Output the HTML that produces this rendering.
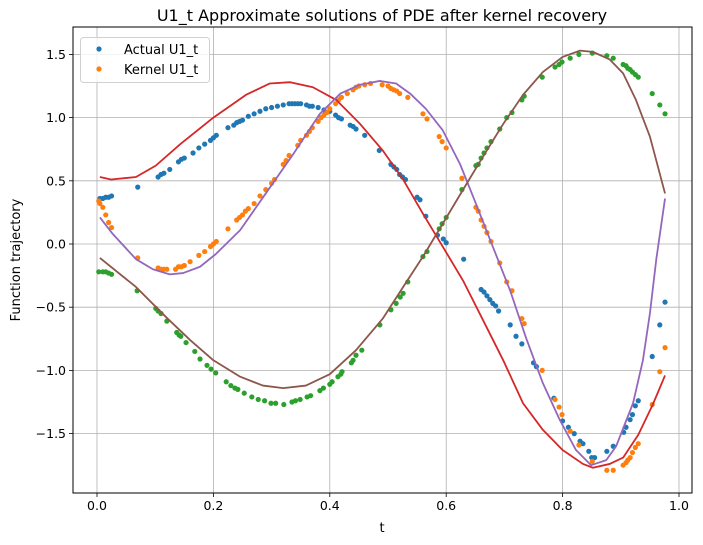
<!DOCTYPE html>
<html><head><meta charset="utf-8"><style>
body{margin:0;background:#fff;}
svg{display:block;font-family:"DejaVu Sans","Liberation Sans",sans-serif;}
</style></head><body>
<svg id="chart" width="703" height="545"></svg>
<script>
const xTicks=[0.0,0.2,0.4,0.6,0.8,1.0];
const xTickLabels=["0.0","0.2","0.4","0.6","0.8","1.0"];
const yTicks=[1.5,1.0,0.5,0.0,-0.5,-1.0,-1.5];
const yTickLabels=["1.5","1.0","0.5","0.0","−0.5","−1.0","−1.5"];
const actualBlue=[[0.005,0.36],[0.01,0.36],[0.015,0.37],[0.02,0.37],[0.025,0.38],[0.07,0.45],[0.105,0.53],[0.11,0.55],[0.115,0.56],[0.125,0.59],[0.14,0.65],[0.145,0.67],[0.15,0.68],[0.165,0.72],[0.175,0.76],[0.185,0.79],[0.195,0.82],[0.2,0.84],[0.205,0.86],[0.225,0.92],[0.235,0.94],[0.24,0.96],[0.245,0.97],[0.25,0.98],[0.26,1.01],[0.27,1.03],[0.28,1.05],[0.29,1.07],[0.3,1.08],[0.31,1.09],[0.32,1.10],[0.33,1.11],[0.335,1.11],[0.34,1.11],[0.345,1.11],[0.35,1.11],[0.36,1.10],[0.365,1.09],[0.37,1.09],[0.38,1.08],[0.39,1.06],[0.4,1.05],[0.41,1.02],[0.415,1.00],[0.42,0.99],[0.435,0.94],[0.44,0.93],[0.445,0.91],[0.46,0.86],[0.485,0.74],[0.505,0.63],[0.51,0.61],[0.515,0.59],[0.52,0.55],[0.525,0.53],[0.53,0.51],[0.55,0.37],[0.555,0.35],[0.565,0.22],[0.585,0.07],[0.595,0.04],[0.6,0.01],[0.63,-0.12],[0.66,-0.36],[0.665,-0.38],[0.67,-0.41],[0.675,-0.44],[0.68,-0.47],[0.685,-0.49],[0.69,-0.53],[0.71,-0.64],[0.72,-0.73],[0.73,-0.79],[0.75,-0.94],[0.755,-0.97],[0.785,-1.22],[0.8,-1.40],[0.81,-1.45],[0.82,-1.5],[0.83,-1.56],[0.835,-1.58],[0.845,-1.64],[0.85,-1.69],[0.855,-1.69],[0.876,-1.64],[0.887,-1.60],[0.905,-1.49],[0.909,-1.45],[0.916,-1.39],[0.92,-1.35],[0.925,-1.28],[0.93,-1.24],[0.954,-0.89],[0.967,-0.64],[0.976,-0.46]];
const kernelOrange=[[0.003,0.34],[0.005,0.32],[0.01,0.29],[0.015,0.23],[0.02,0.17],[0.025,0.13],[0.07,-0.11],[0.105,-0.19],[0.11,-0.2],[0.115,-0.2],[0.12,-0.2],[0.135,-0.2],[0.14,-0.18],[0.145,-0.18],[0.15,-0.17],[0.16,-0.14],[0.175,-0.09],[0.185,-0.06],[0.195,-0.02],[0.2,0.0],[0.205,0.02],[0.225,0.12],[0.24,0.19],[0.245,0.21],[0.25,0.23],[0.255,0.26],[0.26,0.28],[0.27,0.32],[0.28,0.38],[0.29,0.43],[0.3,0.48],[0.305,0.51],[0.32,0.63],[0.325,0.66],[0.33,0.70],[0.345,0.78],[0.35,0.82],[0.36,0.86],[0.365,0.89],[0.37,0.92],[0.38,0.97],[0.385,1.0],[0.39,1.02],[0.395,1.04],[0.4,1.07],[0.41,1.11],[0.415,1.14],[0.42,1.16],[0.43,1.19],[0.44,1.22],[0.445,1.24],[0.45,1.25],[0.46,1.26],[0.47,1.27],[0.49,1.26],[0.5,1.25],[0.505,1.23],[0.51,1.22],[0.515,1.21],[0.52,1.19],[0.534,1.16],[0.56,1.03],[0.567,0.99],[0.588,0.85],[0.593,0.81],[0.6,0.76],[0.627,0.52],[0.651,0.29],[0.655,0.26],[0.66,0.19],[0.665,0.14],[0.67,0.09],[0.677,0.02],[0.692,-0.15],[0.704,-0.30],[0.713,-0.37],[0.73,-0.59],[0.734,-0.63],[0.765,-1.0],[0.787,-1.23],[0.794,-1.29],[0.799,-1.35],[0.813,-1.48],[0.828,-1.59],[0.851,-1.72],[0.876,-1.79],[0.887,-1.79],[0.904,-1.75],[0.909,-1.73],[0.912,-1.71],[0.916,-1.69],[0.92,-1.65],[0.925,-1.61],[0.93,-1.58],[0.954,-1.27],[0.967,-1.01],[0.976,-0.82]];
const actualGreen=[[0.003,-0.22],[0.01,-0.22],[0.015,-0.22],[0.02,-0.23],[0.025,-0.24],[0.069,-0.37],[0.101,-0.51],[0.105,-0.53],[0.11,-0.55],[0.12,-0.61],[0.137,-0.70],[0.141,-0.72],[0.144,-0.73],[0.153,-0.78],[0.168,-0.85],[0.177,-0.91],[0.189,-0.96],[0.196,-0.99],[0.204,-1.02],[0.222,-1.09],[0.23,-1.12],[0.237,-1.14],[0.242,-1.15],[0.253,-1.18],[0.266,-1.21],[0.277,-1.23],[0.288,-1.24],[0.299,-1.26],[0.307,-1.26],[0.321,-1.27],[0.335,-1.25],[0.341,-1.24],[0.349,-1.23],[0.361,-1.21],[0.367,-1.20],[0.383,-1.16],[0.389,-1.14],[0.4,-1.11],[0.404,-1.09],[0.414,-1.05],[0.419,-1.03],[0.421,-1.01],[0.437,-0.94],[0.44,-0.92],[0.445,-0.88],[0.455,-0.84],[0.486,-0.64],[0.505,-0.52],[0.514,-0.47],[0.521,-0.42],[0.526,-0.39],[0.534,-0.30],[0.56,-0.10],[0.567,-0.06],[0.588,0.12],[0.593,0.16],[0.6,0.21],[0.627,0.43],[0.651,0.62],[0.655,0.63],[0.66,0.68],[0.665,0.72],[0.67,0.76],[0.677,0.81],[0.692,0.91],[0.704,1.0],[0.713,1.04],[0.73,1.14],[0.734,1.17],[0.765,1.32],[0.787,1.40],[0.794,1.42],[0.799,1.44],[0.813,1.47],[0.828,1.50],[0.851,1.51],[0.876,1.49],[0.887,1.47],[0.904,1.42],[0.909,1.41],[0.912,1.39],[0.916,1.38],[0.92,1.36],[0.925,1.34],[0.93,1.32],[0.954,1.19],[0.967,1.10],[0.976,1.03]];
const redLine=[[0.005,0.53],[0.024,0.51],[0.067,0.53],[0.101,0.62],[0.143,0.79],[0.2,1.0],[0.256,1.18],[0.297,1.27],[0.332,1.28],[0.371,1.24],[0.411,1.14],[0.452,0.95],[0.491,0.74],[0.526,0.51],[0.56,0.24],[0.594,-0.02],[0.629,-0.29],[0.663,-0.60],[0.698,-0.92],[0.732,-1.26],[0.766,-1.47],[0.8,-1.63],[0.835,-1.74],[0.852,-1.77],[0.881,-1.74],[0.904,-1.69],[0.93,-1.51],[0.955,-1.27],[0.976,-1.04]];
const purpleLine=[[0.005,0.21],[0.027,0.08],[0.067,-0.12],[0.096,-0.20],[0.125,-0.24],[0.148,-0.23],[0.177,-0.18],[0.204,-0.08],[0.246,0.11],[0.29,0.40],[0.337,0.71],[0.383,1.03],[0.418,1.19],[0.452,1.26],[0.486,1.29],[0.514,1.27],[0.538,1.19],[0.565,1.07],[0.594,0.90],[0.624,0.63],[0.651,0.32],[0.68,-0.02],[0.71,-0.37],[0.737,-0.74],[0.766,-1.10],[0.795,-1.39],[0.823,-1.63],[0.849,-1.75],[0.875,-1.71],[0.892,-1.60],[0.921,-1.26],[0.938,-0.92],[0.95,-0.55],[0.961,-0.12],[0.976,0.36]];
const brownLine=[[0.005,-0.11],[0.067,-0.34],[0.119,-0.58],[0.16,-0.76],[0.2,-0.92],[0.246,-1.05],[0.285,-1.12],[0.32,-1.14],[0.359,-1.12],[0.4,-1.03],[0.445,-0.84],[0.491,-0.59],[0.526,-0.34],[0.56,-0.10],[0.594,0.16],[0.629,0.43],[0.663,0.69],[0.698,0.95],[0.732,1.18],[0.766,1.36],[0.8,1.48],[0.83,1.53],[0.852,1.52],[0.881,1.46],[0.904,1.35],[0.926,1.14],[0.95,0.85],[0.976,0.40]];

const NS="http://www.w3.org/2000/svg";
const svg=document.getElementById('chart');
const L=73,R=692,T=27,B=493;
function xs(t){return 97+t*582;}
function ys(v){return 244-v*126.4;}
function mk(tag,attrs,parent){const e=document.createElementNS(NS,tag);for(const k in attrs)e.setAttribute(k,attrs[k]);(parent||svg).appendChild(e);return e;}

const grid=mk('g',{});


xTicks.forEach((t,i)=>{
  mk('line',{x1:xs(t),x2:xs(t),y1:T,y2:B,stroke:'#b0b0b0','stroke-width':0.8},grid);
  mk('line',{x1:xs(t),x2:xs(t),y1:B,y2:B+4,stroke:'#000','stroke-width':0.8},grid);
  const tx=mk('text',{x:xs(t),y:B+17,'font-size':12.5,'text-anchor':'middle',fill:'#000'});
  
  
  tx.textContent=xTickLabels[i];
});
yTicks.forEach((v,i)=>{
  mk('line',{x1:L,x2:R,y1:ys(v),y2:ys(v),stroke:'#b0b0b0','stroke-width':0.8},grid);
  mk('line',{x1:L-4,x2:L,y1:ys(v),y2:ys(v),stroke:'#000','stroke-width':0.8},grid);
  const tx=mk('text',{x:L-7,y:ys(v)+4.5,'font-size':12.5,'text-anchor':'end',fill:'#000'});
  
  
  tx.textContent=yTickLabels[i];
});

function drawLine(data,color,name){
  const p=mk('polyline',{points:data.map(d=>xs(d[0])+','+ys(d[1])).join(' '),fill:'none',stroke:color,'stroke-width':1.8,'stroke-linejoin':'round'});
  
  
}
function drawPts(data,color,name){
  const g=mk('g',{fill:color});
  
  
  data.forEach(d=>{mk('circle',{cx:xs(d[0]),cy:ys(d[1]),r:2.6},g);});
}
drawPts(actualBlue,'#1f77b4','actual-u1-points');
drawPts(kernelOrange,'#ff7f0e','kernel-u1-points');
drawPts(actualGreen,'#2ca02c','actual-u2-points');
drawLine(redLine,'#d62728','red-curve');
drawLine(purpleLine,'#9467bd','purple-curve');
drawLine(brownLine,'#8c564b','brown-curve');

const frame=mk('rect',{x:L,y:T,width:R-L,height:B-T,fill:'none',stroke:'#000','stroke-width':1});



const leg=mk('g',{});


mk('rect',{x:80.5,y:37.5,width:129,height:45,rx:3,fill:'#fff','fill-opacity':0.8,stroke:'#d0d0d0'},leg);
const e1=mk('g',{},leg);


mk('circle',{cx:99,cy:49,r:2.6,fill:'#1f77b4'},e1);
mk('text',{x:124,y:54,'font-size':13,fill:'#000'},e1).textContent='Actual U1_t';
const e2=mk('g',{},leg);


mk('circle',{cx:99,cy:69,r:2.6,fill:'#ff7f0e'},e2);
mk('text',{x:124,y:74,'font-size':13,fill:'#000'},e2).textContent='Kernel U1_t';

const title=mk('text',{x:382,y:21,'font-size':16,'text-anchor':'middle',fill:'#000'});


title.textContent='U1_t Approximate solutions of PDE after kernel recovery';
const xl=mk('text',{x:382,y:532,'font-size':13,'text-anchor':'middle',fill:'#000'});


xl.textContent='t';
const yl=mk('text',{x:0,y:0,'font-size':13,'text-anchor':'middle',fill:'#000',transform:'translate(20,260) rotate(-90)'});


yl.textContent='Function trajectory';
</script>
</body></html>
